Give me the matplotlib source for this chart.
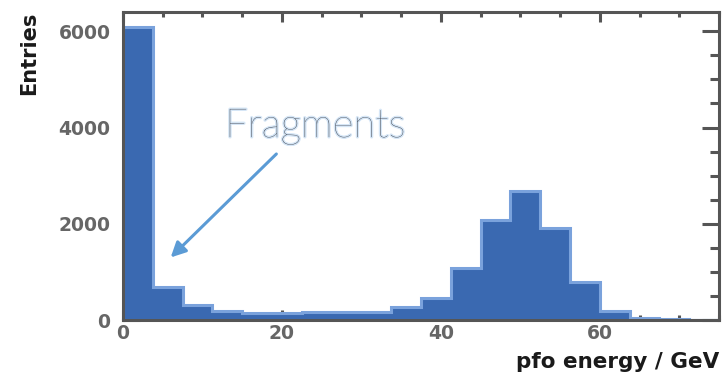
import matplotlib
matplotlib.use("Agg")
import matplotlib.pyplot as plt
import matplotlib.patheffects as pe
import numpy as np
from matplotlib.ticker import MultipleLocator

# Data
bin_edges = [0, 3.75, 7.5, 11.25, 15, 18.75, 22.5, 26.25, 30, 33.75, 37.5,
             41.25, 45, 48.75, 52.5, 56.25, 60, 63.75, 67.5, 71.25, 75]
entries = [6090, 685, 311, 187, 152, 139, 156, 156, 172, 264, 463,
           1086, 2076, 2684, 1904, 795, 187, 48, 20, 10]
x_label = "pfo energy / GeV"
y_label = "Entries"
annot_text = "Fragments"

fig = plt.figure(figsize=(7.22, 3.78), dpi=100)
ax = fig.add_axes([123/722, 1-320/378, (719-123)/722, (320-12)/378])

centers = [(a + b) / 2 for a, b in zip(bin_edges[:-1], bin_edges[1:])]
ax.hist(centers, bins=bin_edges, weights=entries, histtype='stepfilled',
        facecolor='#3a69b1', edgecolor='#7aa2dc', linewidth=2.2, zorder=2)

ax.set_xlim(0, 75)
ax.set_ylim(0, 6400)

spine_c = '#555555'
for s in ax.spines.values():
    s.set_color(spine_c)
    s.set_linewidth(2.2)
    s.set_zorder(3)

ax.xaxis.set_major_locator(MultipleLocator(20))
ax.xaxis.set_minor_locator(MultipleLocator(5))
ax.yaxis.set_major_locator(MultipleLocator(2000))
ax.yaxis.set_minor_locator(MultipleLocator(500))

ax.tick_params(axis='x', which='major', direction='in', length=7, width=2.2,
               color=spine_c, top=True, bottom=True, pad=3)
ax.tick_params(axis='x', which='minor', direction='in', length=3.5, width=2.2,
               color=spine_c, top=True, bottom=True)
ax.tick_params(axis='y', which='major', direction='in', length=12.5, width=2.2,
               color=spine_c, left=True, right=True, pad=9)
ax.tick_params(axis='y', which='minor', direction='in', length=6.5, width=2.2,
               color=spine_c, left=True, right=True)
for lab in ax.get_xticklabels() + ax.get_yticklabels():
    lab.set_fontsize(13.5)
    lab.set_fontweight('bold')
    lab.set_color('#666666')
    lab.set_family('DejaVu Sans')

ax.set_xlabel(x_label, fontsize=15.5, fontweight='bold', color='#1a1a1a', loc='right')
ax.xaxis.set_label_coords(1.0, -0.105)
ax.set_ylabel(y_label, fontsize=15, fontweight='bold', color='#1a1a1a', loc='top')
ax.yaxis.set_label_coords(-0.14, 1.0)

ax.annotate('', xy=(6.0, 1300), xytext=(19.3, 3450),
            arrowprops=dict(arrowstyle='-|>,head_length=0.9,head_width=0.45',
                            color='#5b9bd5', lw=2.2, shrinkA=0, shrinkB=0),
            zorder=4)
ax.text(24.2, 3800, annot_text, fontsize=29, family='Lato', fontweight=200,
        color='#353c48', ha='center', va='baseline', zorder=4,
        path_effects=[pe.withStroke(linewidth=2.0, foreground='#d6e6f6')])

fig.savefig('out.png', dpi=100)
